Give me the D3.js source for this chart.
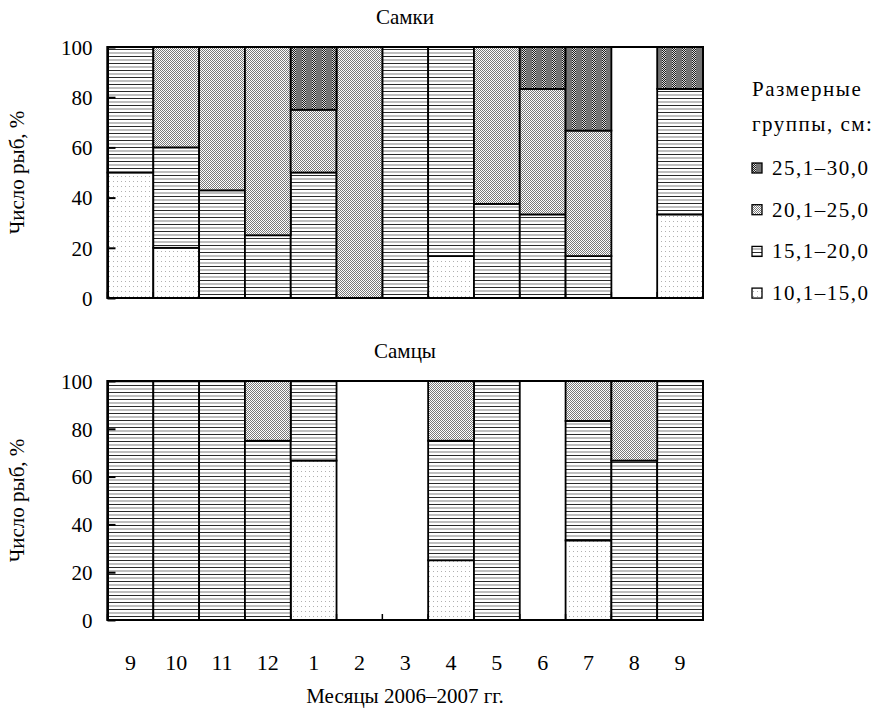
<!DOCTYPE html>
<html>
<head>
<meta charset="utf-8">
<script src="https://cdn.jsdelivr.net/npm/d3@7"></script>
<style>
  body { margin: 0; background: #fff; }
</style>
</head>
<body>
<div id="chart"></div>
<script>
// Two stacked 100% bar charts: size groups of females (top) and males (bottom) by month

const FONT = "'Liberation Serif', serif";

const months = ["9", "10", "11", "12", "1", "2", "3", "4", "5", "6", "7", "8", "9"];
const groups = ["10,1–15,0", "15,1–20,0", "20,1–25,0", "25,1–30,0"];
const yTicks = [0, 20, 40, 60, 80, 100];

// females, % per size group (bottom to top)
const femG1 = [50, 20, 0, 0, 0, 0, 0, 16.7, 0, 0, 0, 0, 33.3];
const femG2 = [50, 40, 42.9, 25, 50, 0, 100, 83.3, 37.5, 33.3, 16.7, 0, 50];
const femG3 = [0, 40, 57.1, 75, 25, 100, 0, 0, 62.5, 50, 50, 0, 0];
const femG4 = [0, 0, 0, 0, 25, 0, 0, 0, 0, 16.7, 33.3, 0, 16.7];

// males
const maleG1 = [0, 0, 0, 0, 66.7, 0, 0, 25, 0, 0, 33.3, 0, 0];
const maleG2 = [100, 100, 100, 75, 33.3, 0, 0, 50, 100, 0, 50, 66.7, 100];
const maleG3 = [0, 0, 0, 25, 0, 0, 0, 25, 0, 0, 16.7, 33.3, 0];
const maleG4 = [0, 0, 0, 0, 0, 0, 0, 0, 0, 0, 0, 0, 0];

const W = 883, H = 718;
const left = 107.5, right = 703;

const svg = d3.select("#chart").append("svg")
  .attr("width", W).attr("height", H);

// ---- fill patterns ----
const defs = svg.append("defs");

function pattern(id, w, h) {
  return defs.append("pattern").attr("id", id)
    .attr("patternUnits", "userSpaceOnUse")
    .attr("width", w).attr("height", h);
}

// dotted (10-15)
let p = pattern("pDots", 4, 5);
p.append("rect").attr("width", 4).attr("height", 5).attr("fill", "#fff");
p.append("rect").attr("x", 1).attr("y", 1).attr("width", 1).attr("height", 1).attr("fill", "#b0b0b0");

// horizontal lines (15-20)
p = pattern("pHoriz", 4, 7);
p.append("rect").attr("width", 4).attr("height", 7).attr("fill", "#fff");
p.append("rect").attr("y", 0).attr("width", 4).attr("height", 1).attr("fill", "#2a2a2a");
p.append("rect").attr("y", 3.5).attr("width", 4).attr("height", 1).attr("fill", "#808080");

// fine checker (20-25)
p = pattern("pCheck", 2, 2);
p.append("rect").attr("width", 2).attr("height", 2).attr("fill", "#fff");
p.append("rect").attr("width", 1).attr("height", 1).attr("fill", "#7a7a7a");
p.append("rect").attr("x", 1).attr("y", 1).attr("width", 1).attr("height", 1).attr("fill", "#7a7a7a");

// dark with checker bands (25-30)
p = pattern("pDark", 10, 2);
p.append("rect").attr("width", 10).attr("height", 2).attr("fill", "#747474");
[2, 4].forEach(x => {
  p.append("rect").attr("x", x).attr("y", 0).attr("width", 1).attr("height", 1).attr("fill", "#1a1a1a");
  p.append("rect").attr("x", x + 1).attr("y", 1).attr("width", 1).attr("height", 1).attr("fill", "#1a1a1a");
  p.append("rect").attr("x", x + 1).attr("y", 0).attr("width", 1).attr("height", 1).attr("fill", "#ddd");
  p.append("rect").attr("x", x).attr("y", 1).attr("width", 1).attr("height", 1).attr("fill", "#ddd");
});

const fills = ["url(#pDots)", "url(#pHoriz)", "url(#pCheck)", "url(#pDark)"];

const x = d3.scaleBand().domain(d3.range(months.length)).range([left, right]).paddingInner(0).paddingOuter(0);

function drawPanel(title, series, top, bottom, titleY) {
  const y = d3.scaleLinear().domain([0, 100]).range([bottom, top]);
  const g = svg.append("g");

  const rows = months.map((m, i) => {
    const r = {idx: i};
    groups.forEach((k, j) => r[k] = series[j][i]);
    return r;
  });
  const stacked = d3.stack().keys(groups)(rows);

  stacked.forEach((layer, j) => {
    g.append("g").selectAll("rect")
      .data(layer.filter(d => d[1] - d[0] > 0))
      .join("rect")
      .attr("x", d => x(d.data.idx))
      .attr("width", x.bandwidth())
      .attr("y", d => y(d[1]))
      .attr("height", d => y(d[0]) - y(d[1]))
      .attr("fill", fills[j])
      .attr("stroke", "#000")
      .attr("stroke-width", 1.8);
  });

  // plot frame
  g.append("rect")
    .attr("x", left).attr("y", top)
    .attr("width", right - left).attr("height", bottom - top)
    .attr("fill", "none").attr("stroke", "#000").attr("stroke-width", 2);

  // x ticks at category boundaries, inward
  const bounds = d3.range(months.length + 1).map(i => left + i * x.step());
  g.append("g").selectAll("line").data(bounds).join("line")
    .attr("x1", d => d).attr("x2", d => d)
    .attr("y1", bottom).attr("y2", bottom - 6)
    .attr("stroke", "#000").attr("stroke-width", 1.5);

  // y axis
  const ya = g.append("g").attr("transform", `translate(${left},0)`)
    .call(d3.axisLeft(y).tickValues(yTicks).tickSizeInner(-8).tickSizeOuter(0).tickPadding(15));
  ya.select(".domain").attr("stroke-width", 2);
  ya.selectAll(".tick line").attr("stroke-width", 2);
  ya.selectAll(".tick text").attr("font-size", 21).attr("dy", "0.35em");

  // titles
  svg.append("text").attr("x", 405).attr("y", titleY)
    .attr("text-anchor", "middle").attr("font-size", 21).text(title);
  svg.append("text")
    .attr("transform", `translate(24,${(top + bottom) / 2}) rotate(-90)`)
    .attr("text-anchor", "middle").attr("font-size", 21).text("Число рыб, %");
  return y;
}

drawPanel("Самки", [femG1, femG2, femG3, femG4], 47, 298, 24);
drawPanel("Самцы", [maleG1, maleG2, maleG3, maleG4], 381, 620, 358);

// month labels
svg.append("g").selectAll("text").data(months).join("text")
  .attr("x", (d, i) => x(i) + x.bandwidth() / 2)
  .attr("y", 670)
  .attr("text-anchor", "middle")
  .attr("font-size", 22)
  .text(d => d);

svg.append("text").attr("x", 405).attr("y", 703)
  .attr("text-anchor", "middle").attr("font-size", 21).text("Месяцы 2006–2007 гг.");

// legend
const lg = svg.append("g").attr("letter-spacing", 1.5);
lg.append("text").attr("x", 752).attr("y", 96).attr("font-size", 21).text("Размерные");
lg.append("text").attr("x", 752).attr("y", 131).attr("font-size", 21).text("группы, см:");
const legendRows = groups.slice().reverse();
legendRows.forEach((k, i) => {
  const cy = 168 + i * 41.7;
  const j = groups.indexOf(k);
  lg.append("rect").attr("x", 752).attr("y", cy - 5).attr("width", 10).attr("height", 10)
    .attr("fill", fills[j]).attr("stroke", "#000").attr("stroke-width", 1.3);
  lg.append("text").attr("x", 772).attr("y", cy + 7).attr("font-size", 21).text(k);
});

// serif face on every label (set per element)
svg.selectAll("text").style("font-family", FONT);
svg.selectAll("g").attr("font-family", null);
</script>
</body>
</html>
